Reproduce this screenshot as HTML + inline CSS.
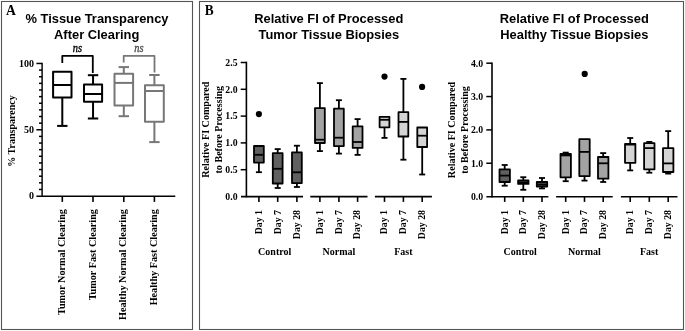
<!DOCTYPE html>
<html><head><meta charset="utf-8"><style>
html,body{margin:0;padding:0;background:#fff;}
body{width:685px;height:331px;overflow:hidden;}
svg{display:block;filter:grayscale(1);}
</style></head><body>
<svg width="685" height="331" viewBox="0 0 685 331">
<rect width="685" height="331" fill="#fff"/>
<rect x="1.5" y="1.5" width="191" height="328" fill="none" stroke="#555" stroke-width="1.1"/>
<rect x="199.5" y="1.5" width="484" height="328" fill="none" stroke="#555" stroke-width="1.1"/>
<text x="5.9" y="14.8" font-family='"Liberation Serif", serif' font-size="14.4" font-weight="bold" font-style="normal" text-anchor="start" fill="#000" transform="translate(5.9 14.8) scale(0.95 1) translate(-5.9 -14.8)">A</text>
<text x="204.8" y="14.9" font-family='"Liberation Serif", serif' font-size="14.8" font-weight="bold" font-style="normal" text-anchor="start" fill="#000" transform="translate(204.8 14.9) scale(0.9 1) translate(-204.8 -14.9)">B</text>
<text x="97" y="23.4" font-family='"Liberation Sans", sans-serif' font-size="12.9" font-weight="bold" font-style="normal" text-anchor="middle" fill="#000">% Tissue Transparency</text>
<text x="96.7" y="38.5" font-family='"Liberation Sans", sans-serif' font-size="12.9" font-weight="bold" font-style="normal" text-anchor="middle" fill="#000">After Clearing</text>
<line x1="42.1" y1="62.65999999999998" x2="42.1" y2="196.9" stroke="#000" stroke-width="1.45" stroke-linecap="butt"/>
<line x1="36.4" y1="196.2" x2="175.3" y2="196.2" stroke="#000" stroke-width="1.45" stroke-linecap="butt"/>
<line x1="39.0" y1="189.468" x2="42.1" y2="189.468" stroke="#000" stroke-width="1.5" stroke-linecap="butt"/>
<line x1="39.0" y1="182.83599999999998" x2="42.1" y2="182.83599999999998" stroke="#000" stroke-width="1.5" stroke-linecap="butt"/>
<line x1="39.0" y1="176.204" x2="42.1" y2="176.204" stroke="#000" stroke-width="1.5" stroke-linecap="butt"/>
<line x1="39.0" y1="169.572" x2="42.1" y2="169.572" stroke="#000" stroke-width="1.5" stroke-linecap="butt"/>
<line x1="39.0" y1="162.94" x2="42.1" y2="162.94" stroke="#000" stroke-width="1.5" stroke-linecap="butt"/>
<line x1="39.0" y1="156.308" x2="42.1" y2="156.308" stroke="#000" stroke-width="1.5" stroke-linecap="butt"/>
<line x1="39.0" y1="149.676" x2="42.1" y2="149.676" stroke="#000" stroke-width="1.5" stroke-linecap="butt"/>
<line x1="39.0" y1="143.04399999999998" x2="42.1" y2="143.04399999999998" stroke="#000" stroke-width="1.5" stroke-linecap="butt"/>
<line x1="39.0" y1="136.41199999999998" x2="42.1" y2="136.41199999999998" stroke="#000" stroke-width="1.5" stroke-linecap="butt"/>
<line x1="36.4" y1="129.77999999999997" x2="42.1" y2="129.77999999999997" stroke="#000" stroke-width="1.5" stroke-linecap="butt"/>
<line x1="39.0" y1="123.148" x2="42.1" y2="123.148" stroke="#000" stroke-width="1.5" stroke-linecap="butt"/>
<line x1="39.0" y1="116.51599999999999" x2="42.1" y2="116.51599999999999" stroke="#000" stroke-width="1.5" stroke-linecap="butt"/>
<line x1="39.0" y1="109.88399999999999" x2="42.1" y2="109.88399999999999" stroke="#000" stroke-width="1.5" stroke-linecap="butt"/>
<line x1="39.0" y1="103.252" x2="42.1" y2="103.252" stroke="#000" stroke-width="1.5" stroke-linecap="butt"/>
<line x1="39.0" y1="96.61999999999999" x2="42.1" y2="96.61999999999999" stroke="#000" stroke-width="1.5" stroke-linecap="butt"/>
<line x1="39.0" y1="89.988" x2="42.1" y2="89.988" stroke="#000" stroke-width="1.5" stroke-linecap="butt"/>
<line x1="39.0" y1="83.356" x2="42.1" y2="83.356" stroke="#000" stroke-width="1.5" stroke-linecap="butt"/>
<line x1="39.0" y1="76.72399999999999" x2="42.1" y2="76.72399999999999" stroke="#000" stroke-width="1.5" stroke-linecap="butt"/>
<line x1="39.0" y1="70.092" x2="42.1" y2="70.092" stroke="#000" stroke-width="1.5" stroke-linecap="butt"/>
<line x1="36.4" y1="63.45999999999998" x2="42.1" y2="63.45999999999998" stroke="#000" stroke-width="1.5" stroke-linecap="butt"/>
<text x="34.0" y="199.4" font-family='"Liberation Serif", serif' font-size="10" font-weight="bold" font-style="normal" text-anchor="end" fill="#000">0</text>
<text x="34.0" y="133.07999999999998" font-family='"Liberation Serif", serif' font-size="10" font-weight="bold" font-style="normal" text-anchor="end" fill="#000">50</text>
<text x="34.0" y="66.75999999999998" font-family='"Liberation Serif", serif' font-size="10" font-weight="bold" font-style="normal" text-anchor="end" fill="#000">100</text>
<line x1="62.3" y1="196.1" x2="62.3" y2="201.9" stroke="#000" stroke-width="1.6" stroke-linecap="butt"/>
<line x1="93.0" y1="196.1" x2="93.0" y2="201.9" stroke="#000" stroke-width="1.6" stroke-linecap="butt"/>
<line x1="123.8" y1="196.1" x2="123.8" y2="201.9" stroke="#000" stroke-width="1.6" stroke-linecap="butt"/>
<line x1="154.4" y1="196.1" x2="154.4" y2="201.9" stroke="#000" stroke-width="1.6" stroke-linecap="butt"/>
<text x="15.0" y="131.0" font-family='"Liberation Serif", serif' font-size="10" font-weight="bold" font-style="normal" text-anchor="middle" fill="#000" transform="rotate(-90 15.0 131.0)">% Transparency</text>
<text x="65.0" y="209.1" font-family='"Liberation Serif", serif' font-size="10.2" font-weight="bold" font-style="normal" text-anchor="end" fill="#000" transform="rotate(-90 65.0 209.1)">Tumor Normal Clearing</text>
<text x="95.7" y="209.1" font-family='"Liberation Serif", serif' font-size="10.2" font-weight="bold" font-style="normal" text-anchor="end" fill="#000" transform="rotate(-90 95.7 209.1)">Tumor Fast Clearing</text>
<text x="126.5" y="209.1" font-family='"Liberation Serif", serif' font-size="10.2" font-weight="bold" font-style="normal" text-anchor="end" fill="#000" transform="rotate(-90 126.5 209.1)">Healthy Normal Clearing</text>
<text x="157.1" y="209.1" font-family='"Liberation Serif", serif' font-size="10.2" font-weight="bold" font-style="normal" text-anchor="end" fill="#000" transform="rotate(-90 157.1 209.1)">Healthy Fast Clearing</text>
<line x1="62.3" y1="97.6" x2="62.3" y2="125.9" stroke="#000" stroke-width="2.0" stroke-linecap="butt"/>
<line x1="57.099999999999994" y1="125.9" x2="67.5" y2="125.9" stroke="#000" stroke-width="2.0" stroke-linecap="butt"/>
<rect x="53.099999999999994" y="71.7" width="18.4" height="25.89999999999999" fill="none" stroke="#000" stroke-width="2.0" stroke-linejoin="round"/>
<line x1="53.099999999999994" y1="85.0" x2="71.5" y2="85.0" stroke="#000" stroke-width="2.0" stroke-linecap="butt"/>
<line x1="93.05" y1="75.2" x2="93.05" y2="84.4" stroke="#000" stroke-width="2.0" stroke-linecap="butt"/>
<line x1="87.85" y1="75.2" x2="98.25" y2="75.2" stroke="#000" stroke-width="2.0" stroke-linecap="butt"/>
<line x1="93.05" y1="101.7" x2="93.05" y2="118.5" stroke="#000" stroke-width="2.0" stroke-linecap="butt"/>
<line x1="87.85" y1="118.5" x2="98.25" y2="118.5" stroke="#000" stroke-width="2.0" stroke-linecap="butt"/>
<rect x="84.0" y="84.4" width="18.1" height="17.299999999999997" fill="none" stroke="#000" stroke-width="2.0" stroke-linejoin="round"/>
<line x1="84.0" y1="94.0" x2="102.1" y2="94.0" stroke="#000" stroke-width="2.0" stroke-linecap="butt"/>
<line x1="123.8" y1="67.1" x2="123.8" y2="73.8" stroke="#777" stroke-width="2.0" stroke-linecap="butt"/>
<line x1="118.6" y1="67.1" x2="129.0" y2="67.1" stroke="#777" stroke-width="2.0" stroke-linecap="butt"/>
<line x1="123.8" y1="105.5" x2="123.8" y2="116.2" stroke="#777" stroke-width="2.0" stroke-linecap="butt"/>
<line x1="118.6" y1="116.2" x2="129.0" y2="116.2" stroke="#777" stroke-width="2.0" stroke-linecap="butt"/>
<rect x="114.5" y="73.8" width="18.6" height="31.700000000000003" fill="none" stroke="#777" stroke-width="2.0" stroke-linejoin="round"/>
<line x1="114.5" y1="82.9" x2="133.1" y2="82.9" stroke="#777" stroke-width="2.0" stroke-linecap="butt"/>
<line x1="154.4" y1="75.0" x2="154.4" y2="85.2" stroke="#777" stroke-width="2.0" stroke-linecap="butt"/>
<line x1="149.20000000000002" y1="75.0" x2="159.6" y2="75.0" stroke="#777" stroke-width="2.0" stroke-linecap="butt"/>
<line x1="154.4" y1="121.8" x2="154.4" y2="142.1" stroke="#777" stroke-width="2.0" stroke-linecap="butt"/>
<line x1="149.20000000000002" y1="142.1" x2="159.6" y2="142.1" stroke="#777" stroke-width="2.0" stroke-linecap="butt"/>
<rect x="145.0" y="85.2" width="18.8" height="36.599999999999994" fill="none" stroke="#777" stroke-width="2.0" stroke-linejoin="round"/>
<line x1="145.0" y1="91.0" x2="163.8" y2="91.0" stroke="#777" stroke-width="2.0" stroke-linecap="butt"/>
<polyline points="62.3,62.9 62.3,55.9 92.8,55.9 92.8,73.0" fill="none" stroke="#000" stroke-width="1.8" stroke-linejoin="round"/>
<polyline points="123.7,62.6 123.7,55.9 154.5,55.9 154.5,72.6" fill="none" stroke="#777" stroke-width="1.8" stroke-linejoin="round"/>
<text x="77.4" y="52.4" font-family='"Liberation Serif", serif' font-size="11.6" font-weight="normal" font-style="italic" text-anchor="middle" fill="#000" stroke="#000" stroke-width="0.35" transform="translate(77.4 52.4) scale(0.9 1) translate(-77.4 -52.4)">ns</text>
<text x="139.0" y="52.4" font-family='"Liberation Serif", serif' font-size="11.6" font-weight="normal" font-style="italic" text-anchor="middle" fill="#505050" stroke="#505050" stroke-width="0.35" transform="translate(139.0 52.4) scale(0.9 1) translate(-139.0 -52.4)">ns</text>
<text x="328.8" y="23.3" font-family='"Liberation Sans", sans-serif' font-size="12.9" font-weight="bold" font-style="normal" text-anchor="middle" fill="#000">Relative FI of Processed</text>
<text x="328.8" y="38.5" font-family='"Liberation Sans", sans-serif' font-size="12.9" font-weight="bold" font-style="normal" text-anchor="middle" fill="#000">Tumor Tissue Biopsies</text>
<line x1="246.4" y1="61.7" x2="246.4" y2="197.3" stroke="#000" stroke-width="1.6" stroke-linecap="butt"/>
<text x="237.5" y="199.8" font-family='"Liberation Serif", serif' font-size="9.75" font-weight="bold" font-style="normal" text-anchor="end" fill="#000">0.0</text>
<line x1="240.70000000000002" y1="169.7" x2="246.4" y2="169.7" stroke="#000" stroke-width="1.5" stroke-linecap="butt"/>
<text x="237.5" y="173.0" font-family='"Liberation Serif", serif' font-size="9.75" font-weight="bold" font-style="normal" text-anchor="end" fill="#000">0.5</text>
<line x1="240.70000000000002" y1="142.9" x2="246.4" y2="142.9" stroke="#000" stroke-width="1.5" stroke-linecap="butt"/>
<text x="237.5" y="146.20000000000002" font-family='"Liberation Serif", serif' font-size="9.75" font-weight="bold" font-style="normal" text-anchor="end" fill="#000">1.0</text>
<line x1="240.70000000000002" y1="116.1" x2="246.4" y2="116.1" stroke="#000" stroke-width="1.5" stroke-linecap="butt"/>
<text x="237.5" y="119.39999999999999" font-family='"Liberation Serif", serif' font-size="9.75" font-weight="bold" font-style="normal" text-anchor="end" fill="#000">1.5</text>
<line x1="240.70000000000002" y1="89.3" x2="246.4" y2="89.3" stroke="#000" stroke-width="1.5" stroke-linecap="butt"/>
<text x="237.5" y="92.6" font-family='"Liberation Serif", serif' font-size="9.75" font-weight="bold" font-style="normal" text-anchor="end" fill="#000">2.0</text>
<line x1="240.70000000000002" y1="62.5" x2="246.4" y2="62.5" stroke="#000" stroke-width="1.5" stroke-linecap="butt"/>
<text x="237.5" y="65.8" font-family='"Liberation Serif", serif' font-size="9.75" font-weight="bold" font-style="normal" text-anchor="end" fill="#000">2.5</text>
<line x1="241.0" y1="196.6" x2="303.0" y2="196.6" stroke="#000" stroke-width="1.6" stroke-linecap="butt"/>
<line x1="310.3" y1="196.6" x2="367.5" y2="196.6" stroke="#000" stroke-width="1.6" stroke-linecap="butt"/>
<line x1="374.9" y1="196.6" x2="431.9" y2="196.6" stroke="#000" stroke-width="1.6" stroke-linecap="butt"/>
<line x1="258.9" y1="196.5" x2="258.9" y2="201.9" stroke="#000" stroke-width="1.6" stroke-linecap="butt"/>
<line x1="277.7" y1="196.5" x2="277.7" y2="201.9" stroke="#000" stroke-width="1.6" stroke-linecap="butt"/>
<line x1="296.9" y1="196.5" x2="296.9" y2="201.9" stroke="#000" stroke-width="1.6" stroke-linecap="butt"/>
<line x1="319.9" y1="196.5" x2="319.9" y2="201.9" stroke="#000" stroke-width="1.6" stroke-linecap="butt"/>
<line x1="338.9" y1="196.5" x2="338.9" y2="201.9" stroke="#000" stroke-width="1.6" stroke-linecap="butt"/>
<line x1="357.6" y1="196.5" x2="357.6" y2="201.9" stroke="#000" stroke-width="1.6" stroke-linecap="butt"/>
<line x1="384.5" y1="196.5" x2="384.5" y2="201.9" stroke="#000" stroke-width="1.6" stroke-linecap="butt"/>
<line x1="403.4" y1="196.5" x2="403.4" y2="201.9" stroke="#000" stroke-width="1.6" stroke-linecap="butt"/>
<line x1="422.2" y1="196.5" x2="422.2" y2="201.9" stroke="#000" stroke-width="1.6" stroke-linecap="butt"/>
<text x="261.7" y="210.0" font-family='"Liberation Serif", serif' font-size="9.8" font-weight="bold" font-style="normal" text-anchor="end" fill="#000" transform="rotate(-90 261.7 210.0)">Day 1</text>
<text x="280.5" y="210.0" font-family='"Liberation Serif", serif' font-size="9.8" font-weight="bold" font-style="normal" text-anchor="end" fill="#000" transform="rotate(-90 280.5 210.0)">Day 7</text>
<text x="299.7" y="210.0" font-family='"Liberation Serif", serif' font-size="9.8" font-weight="bold" font-style="normal" text-anchor="end" fill="#000" transform="rotate(-90 299.7 210.0)">Day 28</text>
<text x="322.7" y="210.0" font-family='"Liberation Serif", serif' font-size="9.8" font-weight="bold" font-style="normal" text-anchor="end" fill="#000" transform="rotate(-90 322.7 210.0)">Day 1</text>
<text x="341.7" y="210.0" font-family='"Liberation Serif", serif' font-size="9.8" font-weight="bold" font-style="normal" text-anchor="end" fill="#000" transform="rotate(-90 341.7 210.0)">Day 7</text>
<text x="360.40000000000003" y="210.0" font-family='"Liberation Serif", serif' font-size="9.8" font-weight="bold" font-style="normal" text-anchor="end" fill="#000" transform="rotate(-90 360.40000000000003 210.0)">Day 28</text>
<text x="387.3" y="210.0" font-family='"Liberation Serif", serif' font-size="9.8" font-weight="bold" font-style="normal" text-anchor="end" fill="#000" transform="rotate(-90 387.3 210.0)">Day 1</text>
<text x="406.2" y="210.0" font-family='"Liberation Serif", serif' font-size="9.8" font-weight="bold" font-style="normal" text-anchor="end" fill="#000" transform="rotate(-90 406.2 210.0)">Day 7</text>
<text x="425.0" y="210.0" font-family='"Liberation Serif", serif' font-size="9.8" font-weight="bold" font-style="normal" text-anchor="end" fill="#000" transform="rotate(-90 425.0 210.0)">Day 28</text>
<text x="274.7" y="255.3" font-family='"Liberation Serif", serif' font-size="10" font-weight="bold" font-style="normal" text-anchor="middle" fill="#000">Control</text>
<text x="338.9" y="255.3" font-family='"Liberation Serif", serif' font-size="10" font-weight="bold" font-style="normal" text-anchor="middle" fill="#000">Normal</text>
<text x="403.4" y="255.3" font-family='"Liberation Serif", serif' font-size="10" font-weight="bold" font-style="normal" text-anchor="middle" fill="#000">Fast</text>
<text x="209.4" y="129.7" font-family='"Liberation Serif", serif' font-size="10.1" font-weight="bold" font-style="normal" text-anchor="middle" fill="#000" transform="rotate(-90 209.4 129.7)">Relative FI Compared</text>
<text x="222.0" y="129.7" font-family='"Liberation Serif", serif' font-size="10.1" font-weight="bold" font-style="normal" text-anchor="middle" fill="#000" transform="rotate(-90 222.0 129.7)">to Before Processing</text>
<line x1="258.9" y1="162.6" x2="258.9" y2="172.2" stroke="#000" stroke-width="1.8" stroke-linecap="butt"/>
<line x1="255.89999999999998" y1="172.2" x2="261.9" y2="172.2" stroke="#000" stroke-width="1.8" stroke-linecap="butt"/>
<rect x="253.99999999999997" y="146.0" width="9.8" height="16.599999999999994" fill="#606060" stroke="#000" stroke-width="1.8" stroke-linejoin="round"/>
<line x1="253.99999999999997" y1="154.8" x2="263.79999999999995" y2="154.8" stroke="#000" stroke-width="1.8" stroke-linecap="butt"/>
<line x1="277.7" y1="149.1" x2="277.7" y2="153.2" stroke="#000" stroke-width="1.8" stroke-linecap="butt"/>
<line x1="274.7" y1="149.1" x2="280.7" y2="149.1" stroke="#000" stroke-width="1.8" stroke-linecap="butt"/>
<line x1="277.7" y1="183.5" x2="277.7" y2="188.0" stroke="#000" stroke-width="1.8" stroke-linecap="butt"/>
<line x1="274.7" y1="188.0" x2="280.7" y2="188.0" stroke="#000" stroke-width="1.8" stroke-linecap="butt"/>
<rect x="272.8" y="153.2" width="9.8" height="30.30000000000001" fill="#606060" stroke="#000" stroke-width="1.8" stroke-linejoin="round"/>
<line x1="272.8" y1="168.8" x2="282.59999999999997" y2="168.8" stroke="#000" stroke-width="1.8" stroke-linecap="butt"/>
<line x1="296.9" y1="145.7" x2="296.9" y2="152.3" stroke="#000" stroke-width="1.8" stroke-linecap="butt"/>
<line x1="293.9" y1="145.7" x2="299.9" y2="145.7" stroke="#000" stroke-width="1.8" stroke-linecap="butt"/>
<line x1="296.9" y1="183.1" x2="296.9" y2="187.0" stroke="#000" stroke-width="1.8" stroke-linecap="butt"/>
<line x1="293.9" y1="187.0" x2="299.9" y2="187.0" stroke="#000" stroke-width="1.8" stroke-linecap="butt"/>
<rect x="292.0" y="152.3" width="9.8" height="30.799999999999983" fill="#606060" stroke="#000" stroke-width="1.8" stroke-linejoin="round"/>
<line x1="292.0" y1="172.3" x2="301.79999999999995" y2="172.3" stroke="#000" stroke-width="1.8" stroke-linecap="butt"/>
<line x1="319.9" y1="83.1" x2="319.9" y2="108.1" stroke="#000" stroke-width="1.8" stroke-linecap="butt"/>
<line x1="316.9" y1="83.1" x2="322.9" y2="83.1" stroke="#000" stroke-width="1.8" stroke-linecap="butt"/>
<line x1="319.9" y1="143.0" x2="319.9" y2="151.1" stroke="#000" stroke-width="1.8" stroke-linecap="butt"/>
<line x1="316.9" y1="151.1" x2="322.9" y2="151.1" stroke="#000" stroke-width="1.8" stroke-linecap="butt"/>
<rect x="315.0" y="108.1" width="9.8" height="34.900000000000006" fill="#a3a3a3" stroke="#000" stroke-width="1.8" stroke-linejoin="round"/>
<line x1="315.0" y1="139.7" x2="324.79999999999995" y2="139.7" stroke="#000" stroke-width="1.8" stroke-linecap="butt"/>
<line x1="338.9" y1="100.2" x2="338.9" y2="108.7" stroke="#000" stroke-width="1.8" stroke-linecap="butt"/>
<line x1="335.9" y1="100.2" x2="341.9" y2="100.2" stroke="#000" stroke-width="1.8" stroke-linecap="butt"/>
<line x1="338.9" y1="146.1" x2="338.9" y2="153.6" stroke="#000" stroke-width="1.8" stroke-linecap="butt"/>
<line x1="335.9" y1="153.6" x2="341.9" y2="153.6" stroke="#000" stroke-width="1.8" stroke-linecap="butt"/>
<rect x="334.0" y="108.7" width="9.8" height="37.39999999999999" fill="#a3a3a3" stroke="#000" stroke-width="1.8" stroke-linejoin="round"/>
<line x1="334.0" y1="137.7" x2="343.79999999999995" y2="137.7" stroke="#000" stroke-width="1.8" stroke-linecap="butt"/>
<line x1="357.6" y1="119.1" x2="357.6" y2="126.3" stroke="#000" stroke-width="1.8" stroke-linecap="butt"/>
<line x1="354.6" y1="119.1" x2="360.6" y2="119.1" stroke="#000" stroke-width="1.8" stroke-linecap="butt"/>
<line x1="357.6" y1="147.9" x2="357.6" y2="154.9" stroke="#000" stroke-width="1.8" stroke-linecap="butt"/>
<line x1="354.6" y1="154.9" x2="360.6" y2="154.9" stroke="#000" stroke-width="1.8" stroke-linecap="butt"/>
<rect x="352.70000000000005" y="126.3" width="9.8" height="21.60000000000001" fill="#a3a3a3" stroke="#000" stroke-width="1.8" stroke-linejoin="round"/>
<line x1="352.70000000000005" y1="142.0" x2="362.5" y2="142.0" stroke="#000" stroke-width="1.8" stroke-linecap="butt"/>
<line x1="384.5" y1="127.3" x2="384.5" y2="137.9" stroke="#000" stroke-width="1.8" stroke-linecap="butt"/>
<line x1="381.5" y1="137.9" x2="387.5" y2="137.9" stroke="#000" stroke-width="1.8" stroke-linecap="butt"/>
<rect x="379.6" y="116.8" width="9.8" height="10.5" fill="#d4d4d4" stroke="#000" stroke-width="1.8" stroke-linejoin="round"/>
<line x1="379.6" y1="119.8" x2="389.4" y2="119.8" stroke="#000" stroke-width="1.8" stroke-linecap="butt"/>
<line x1="403.4" y1="78.9" x2="403.4" y2="112.1" stroke="#000" stroke-width="1.8" stroke-linecap="butt"/>
<line x1="400.4" y1="78.9" x2="406.4" y2="78.9" stroke="#000" stroke-width="1.8" stroke-linecap="butt"/>
<line x1="403.4" y1="136.5" x2="403.4" y2="159.7" stroke="#000" stroke-width="1.8" stroke-linecap="butt"/>
<line x1="400.4" y1="159.7" x2="406.4" y2="159.7" stroke="#000" stroke-width="1.8" stroke-linecap="butt"/>
<rect x="398.5" y="112.1" width="9.8" height="24.400000000000006" fill="#d4d4d4" stroke="#000" stroke-width="1.8" stroke-linejoin="round"/>
<line x1="398.5" y1="121.9" x2="408.29999999999995" y2="121.9" stroke="#000" stroke-width="1.8" stroke-linecap="butt"/>
<line x1="422.2" y1="147.0" x2="422.2" y2="174.5" stroke="#000" stroke-width="1.8" stroke-linecap="butt"/>
<line x1="419.2" y1="174.5" x2="425.2" y2="174.5" stroke="#000" stroke-width="1.8" stroke-linecap="butt"/>
<rect x="417.3" y="127.5" width="9.8" height="19.5" fill="#d4d4d4" stroke="#000" stroke-width="1.8" stroke-linejoin="round"/>
<line x1="417.3" y1="135.7" x2="427.09999999999997" y2="135.7" stroke="#000" stroke-width="1.8" stroke-linecap="butt"/>
<circle cx="258.9" cy="114.1" r="3.1" fill="#000"/>
<circle cx="384.5" cy="76.6" r="3.1" fill="#000"/>
<circle cx="422.1" cy="86.9" r="3.1" fill="#000"/>
<text x="574.3" y="23.3" font-family='"Liberation Sans", sans-serif' font-size="12.9" font-weight="bold" font-style="normal" text-anchor="middle" fill="#000">Relative FI of Processed</text>
<text x="574.3" y="38.5" font-family='"Liberation Sans", sans-serif' font-size="12.9" font-weight="bold" font-style="normal" text-anchor="middle" fill="#000">Healthy Tissue Biopsies</text>
<line x1="492.0" y1="62.400000000000006" x2="492.0" y2="197.4" stroke="#000" stroke-width="1.6" stroke-linecap="butt"/>
<text x="483.1" y="199.9" font-family='"Liberation Serif", serif' font-size="9.75" font-weight="bold" font-style="normal" text-anchor="end" fill="#000">0.0</text>
<line x1="486.3" y1="163.25" x2="492.0" y2="163.25" stroke="#000" stroke-width="1.5" stroke-linecap="butt"/>
<text x="483.1" y="166.55" font-family='"Liberation Serif", serif' font-size="9.75" font-weight="bold" font-style="normal" text-anchor="end" fill="#000">1.0</text>
<line x1="486.3" y1="129.9" x2="492.0" y2="129.9" stroke="#000" stroke-width="1.5" stroke-linecap="butt"/>
<text x="483.1" y="133.20000000000002" font-family='"Liberation Serif", serif' font-size="9.75" font-weight="bold" font-style="normal" text-anchor="end" fill="#000">2.0</text>
<line x1="486.3" y1="96.55000000000001" x2="492.0" y2="96.55000000000001" stroke="#000" stroke-width="1.5" stroke-linecap="butt"/>
<text x="483.1" y="99.85000000000001" font-family='"Liberation Serif", serif' font-size="9.75" font-weight="bold" font-style="normal" text-anchor="end" fill="#000">3.0</text>
<line x1="486.3" y1="63.20000000000002" x2="492.0" y2="63.20000000000002" stroke="#000" stroke-width="1.5" stroke-linecap="butt"/>
<text x="483.1" y="66.50000000000001" font-family='"Liberation Serif", serif' font-size="9.75" font-weight="bold" font-style="normal" text-anchor="end" fill="#000">4.0</text>
<line x1="486.4" y1="196.7" x2="548.4" y2="196.7" stroke="#000" stroke-width="1.6" stroke-linecap="butt"/>
<line x1="556.1" y1="196.7" x2="612.7" y2="196.7" stroke="#000" stroke-width="1.6" stroke-linecap="butt"/>
<line x1="620.9" y1="196.7" x2="677.5" y2="196.7" stroke="#000" stroke-width="1.6" stroke-linecap="butt"/>
<line x1="504.7" y1="196.6" x2="504.7" y2="201.9" stroke="#000" stroke-width="1.6" stroke-linecap="butt"/>
<line x1="523.3" y1="196.6" x2="523.3" y2="201.9" stroke="#000" stroke-width="1.6" stroke-linecap="butt"/>
<line x1="542.0" y1="196.6" x2="542.0" y2="201.9" stroke="#000" stroke-width="1.6" stroke-linecap="butt"/>
<line x1="565.7" y1="196.6" x2="565.7" y2="201.9" stroke="#000" stroke-width="1.6" stroke-linecap="butt"/>
<line x1="584.5" y1="196.6" x2="584.5" y2="201.9" stroke="#000" stroke-width="1.6" stroke-linecap="butt"/>
<line x1="603.2" y1="196.6" x2="603.2" y2="201.9" stroke="#000" stroke-width="1.6" stroke-linecap="butt"/>
<line x1="630.2" y1="196.6" x2="630.2" y2="201.9" stroke="#000" stroke-width="1.6" stroke-linecap="butt"/>
<line x1="649.3" y1="196.6" x2="649.3" y2="201.9" stroke="#000" stroke-width="1.6" stroke-linecap="butt"/>
<line x1="668.2" y1="196.6" x2="668.2" y2="201.9" stroke="#000" stroke-width="1.6" stroke-linecap="butt"/>
<text x="507.5" y="210.0" font-family='"Liberation Serif", serif' font-size="9.8" font-weight="bold" font-style="normal" text-anchor="end" fill="#000" transform="rotate(-90 507.5 210.0)">Day 1</text>
<text x="526.0999999999999" y="210.0" font-family='"Liberation Serif", serif' font-size="9.8" font-weight="bold" font-style="normal" text-anchor="end" fill="#000" transform="rotate(-90 526.0999999999999 210.0)">Day 7</text>
<text x="544.8" y="210.0" font-family='"Liberation Serif", serif' font-size="9.8" font-weight="bold" font-style="normal" text-anchor="end" fill="#000" transform="rotate(-90 544.8 210.0)">Day 28</text>
<text x="568.5" y="210.0" font-family='"Liberation Serif", serif' font-size="9.8" font-weight="bold" font-style="normal" text-anchor="end" fill="#000" transform="rotate(-90 568.5 210.0)">Day 1</text>
<text x="587.3" y="210.0" font-family='"Liberation Serif", serif' font-size="9.8" font-weight="bold" font-style="normal" text-anchor="end" fill="#000" transform="rotate(-90 587.3 210.0)">Day 7</text>
<text x="606.0" y="210.0" font-family='"Liberation Serif", serif' font-size="9.8" font-weight="bold" font-style="normal" text-anchor="end" fill="#000" transform="rotate(-90 606.0 210.0)">Day 28</text>
<text x="633.0" y="210.0" font-family='"Liberation Serif", serif' font-size="9.8" font-weight="bold" font-style="normal" text-anchor="end" fill="#000" transform="rotate(-90 633.0 210.0)">Day 1</text>
<text x="652.0999999999999" y="210.0" font-family='"Liberation Serif", serif' font-size="9.8" font-weight="bold" font-style="normal" text-anchor="end" fill="#000" transform="rotate(-90 652.0999999999999 210.0)">Day 7</text>
<text x="671.0" y="210.0" font-family='"Liberation Serif", serif' font-size="9.8" font-weight="bold" font-style="normal" text-anchor="end" fill="#000" transform="rotate(-90 671.0 210.0)">Day 28</text>
<text x="520.2" y="255.3" font-family='"Liberation Serif", serif' font-size="10" font-weight="bold" font-style="normal" text-anchor="middle" fill="#000">Control</text>
<text x="584.4" y="255.3" font-family='"Liberation Serif", serif' font-size="10" font-weight="bold" font-style="normal" text-anchor="middle" fill="#000">Normal</text>
<text x="649.2" y="255.3" font-family='"Liberation Serif", serif' font-size="10" font-weight="bold" font-style="normal" text-anchor="middle" fill="#000">Fast</text>
<text x="455.0" y="130.0" font-family='"Liberation Serif", serif' font-size="10.1" font-weight="bold" font-style="normal" text-anchor="middle" fill="#000" transform="rotate(-90 455.0 130.0)">Relative FI Compared</text>
<text x="467.6" y="130.0" font-family='"Liberation Serif", serif' font-size="10.1" font-weight="bold" font-style="normal" text-anchor="middle" fill="#000" transform="rotate(-90 467.6 130.0)">to Before Processing</text>
<line x1="504.7" y1="165.0" x2="504.7" y2="169.3" stroke="#000" stroke-width="1.8" stroke-linecap="butt"/>
<line x1="501.7" y1="165.0" x2="507.7" y2="165.0" stroke="#000" stroke-width="1.8" stroke-linecap="butt"/>
<line x1="504.7" y1="182.0" x2="504.7" y2="185.7" stroke="#000" stroke-width="1.8" stroke-linecap="butt"/>
<line x1="501.7" y1="185.7" x2="507.7" y2="185.7" stroke="#000" stroke-width="1.8" stroke-linecap="butt"/>
<rect x="499.5" y="169.3" width="10.4" height="12.699999999999989" fill="#606060" stroke="#000" stroke-width="1.8" stroke-linejoin="round"/>
<line x1="499.5" y1="175.6" x2="509.9" y2="175.6" stroke="#000" stroke-width="1.8" stroke-linecap="butt"/>
<line x1="523.3" y1="177.2" x2="523.3" y2="180.4" stroke="#000" stroke-width="1.8" stroke-linecap="butt"/>
<line x1="520.3" y1="177.2" x2="526.3" y2="177.2" stroke="#000" stroke-width="1.8" stroke-linecap="butt"/>
<line x1="523.3" y1="183.9" x2="523.3" y2="189.8" stroke="#000" stroke-width="1.8" stroke-linecap="butt"/>
<line x1="520.3" y1="189.8" x2="526.3" y2="189.8" stroke="#000" stroke-width="1.8" stroke-linecap="butt"/>
<rect x="518.0999999999999" y="180.4" width="10.4" height="3.5" fill="#606060" stroke="#000" stroke-width="1.8" stroke-linejoin="round"/>
<line x1="518.0999999999999" y1="182.4" x2="528.5" y2="182.4" stroke="#000" stroke-width="1.8" stroke-linecap="butt"/>
<line x1="542.0" y1="178.0" x2="542.0" y2="182.0" stroke="#000" stroke-width="1.8" stroke-linecap="butt"/>
<line x1="539.0" y1="178.0" x2="545.0" y2="178.0" stroke="#000" stroke-width="1.8" stroke-linecap="butt"/>
<line x1="542.0" y1="186.5" x2="542.0" y2="188.4" stroke="#000" stroke-width="1.8" stroke-linecap="butt"/>
<line x1="539.0" y1="188.4" x2="545.0" y2="188.4" stroke="#000" stroke-width="1.8" stroke-linecap="butt"/>
<rect x="536.8" y="182.0" width="10.4" height="4.5" fill="#606060" stroke="#000" stroke-width="1.8" stroke-linejoin="round"/>
<line x1="536.8" y1="184.5" x2="547.2" y2="184.5" stroke="#000" stroke-width="1.8" stroke-linecap="butt"/>
<line x1="565.7" y1="152.6" x2="565.7" y2="154.0" stroke="#000" stroke-width="1.8" stroke-linecap="butt"/>
<line x1="562.7" y1="152.6" x2="568.7" y2="152.6" stroke="#000" stroke-width="1.8" stroke-linecap="butt"/>
<line x1="565.7" y1="177.3" x2="565.7" y2="181.2" stroke="#000" stroke-width="1.8" stroke-linecap="butt"/>
<line x1="562.7" y1="181.2" x2="568.7" y2="181.2" stroke="#000" stroke-width="1.8" stroke-linecap="butt"/>
<rect x="560.5" y="154.0" width="10.4" height="23.30000000000001" fill="#a3a3a3" stroke="#000" stroke-width="1.8" stroke-linejoin="round"/>
<line x1="560.5" y1="155.4" x2="570.9000000000001" y2="155.4" stroke="#000" stroke-width="1.8" stroke-linecap="butt"/>
<line x1="584.5" y1="176.1" x2="584.5" y2="180.6" stroke="#000" stroke-width="1.8" stroke-linecap="butt"/>
<line x1="581.5" y1="180.6" x2="587.5" y2="180.6" stroke="#000" stroke-width="1.8" stroke-linecap="butt"/>
<rect x="579.3" y="139.2" width="10.4" height="36.900000000000006" fill="#a3a3a3" stroke="#000" stroke-width="1.8" stroke-linejoin="round"/>
<line x1="579.3" y1="151.9" x2="589.7" y2="151.9" stroke="#000" stroke-width="1.8" stroke-linecap="butt"/>
<line x1="603.2" y1="153.1" x2="603.2" y2="157.0" stroke="#000" stroke-width="1.8" stroke-linecap="butt"/>
<line x1="600.2" y1="153.1" x2="606.2" y2="153.1" stroke="#000" stroke-width="1.8" stroke-linecap="butt"/>
<line x1="603.2" y1="178.7" x2="603.2" y2="182.0" stroke="#000" stroke-width="1.8" stroke-linecap="butt"/>
<line x1="600.2" y1="182.0" x2="606.2" y2="182.0" stroke="#000" stroke-width="1.8" stroke-linecap="butt"/>
<rect x="598.0" y="157.0" width="10.4" height="21.69999999999999" fill="#a3a3a3" stroke="#000" stroke-width="1.8" stroke-linejoin="round"/>
<line x1="598.0" y1="163.3" x2="608.4000000000001" y2="163.3" stroke="#000" stroke-width="1.8" stroke-linecap="butt"/>
<line x1="630.2" y1="138.0" x2="630.2" y2="144.0" stroke="#000" stroke-width="1.8" stroke-linecap="butt"/>
<line x1="627.2" y1="138.0" x2="633.2" y2="138.0" stroke="#000" stroke-width="1.8" stroke-linecap="butt"/>
<line x1="630.2" y1="162.8" x2="630.2" y2="170.4" stroke="#000" stroke-width="1.8" stroke-linecap="butt"/>
<line x1="627.2" y1="170.4" x2="633.2" y2="170.4" stroke="#000" stroke-width="1.8" stroke-linecap="butt"/>
<rect x="625.0" y="144.0" width="10.4" height="18.80000000000001" fill="#d4d4d4" stroke="#000" stroke-width="1.8" stroke-linejoin="round"/>
<line x1="625.0" y1="144.6" x2="635.4000000000001" y2="144.6" stroke="#000" stroke-width="1.8" stroke-linecap="butt"/>
<line x1="649.3" y1="141.9" x2="649.3" y2="143.2" stroke="#000" stroke-width="1.8" stroke-linecap="butt"/>
<line x1="646.3" y1="141.9" x2="652.3" y2="141.9" stroke="#000" stroke-width="1.8" stroke-linecap="butt"/>
<line x1="649.3" y1="169.3" x2="649.3" y2="172.7" stroke="#000" stroke-width="1.8" stroke-linecap="butt"/>
<line x1="646.3" y1="172.7" x2="652.3" y2="172.7" stroke="#000" stroke-width="1.8" stroke-linecap="butt"/>
<rect x="644.0999999999999" y="143.2" width="10.4" height="26.100000000000023" fill="#d4d4d4" stroke="#000" stroke-width="1.8" stroke-linejoin="round"/>
<line x1="644.0999999999999" y1="148.1" x2="654.5" y2="148.1" stroke="#000" stroke-width="1.8" stroke-linecap="butt"/>
<line x1="668.2" y1="131.1" x2="668.2" y2="148.2" stroke="#000" stroke-width="1.8" stroke-linecap="butt"/>
<line x1="665.2" y1="131.1" x2="671.2" y2="131.1" stroke="#000" stroke-width="1.8" stroke-linecap="butt"/>
<line x1="668.2" y1="172.0" x2="668.2" y2="173.6" stroke="#000" stroke-width="1.8" stroke-linecap="butt"/>
<line x1="665.2" y1="173.6" x2="671.2" y2="173.6" stroke="#000" stroke-width="1.8" stroke-linecap="butt"/>
<rect x="663.0" y="148.2" width="10.4" height="23.80000000000001" fill="#d4d4d4" stroke="#000" stroke-width="1.8" stroke-linejoin="round"/>
<line x1="663.0" y1="163.4" x2="673.4000000000001" y2="163.4" stroke="#000" stroke-width="1.8" stroke-linecap="butt"/>
<circle cx="584.7" cy="73.9" r="3.1" fill="#000"/>
</svg>
</body></html>
